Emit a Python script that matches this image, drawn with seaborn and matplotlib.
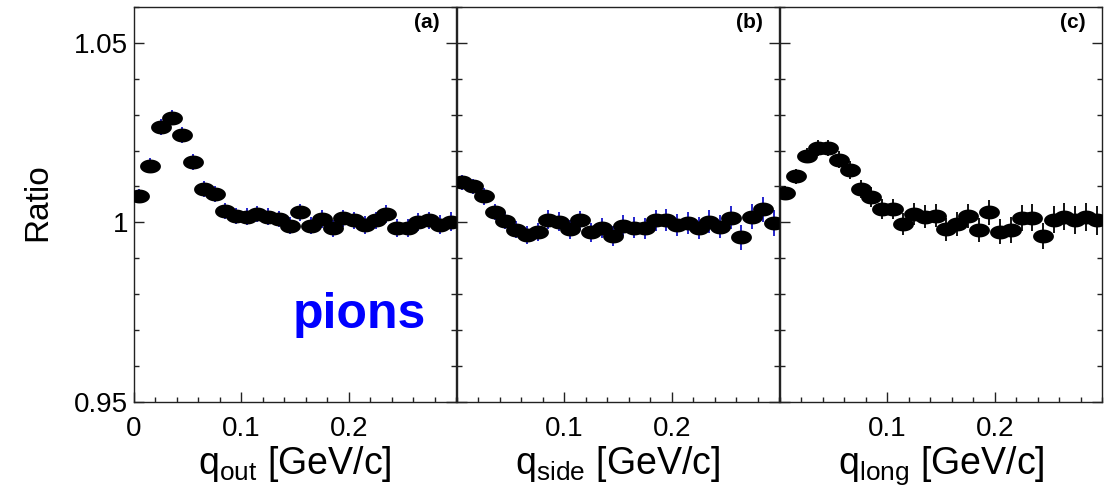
import numpy as np
import matplotlib
matplotlib.use("Agg")
from matplotlib import pyplot as plt
from matplotlib.path import Path
from matplotlib.ticker import FixedLocator, FixedFormatter, MultipleLocator
import seaborn as sns

# bin centres [GeV/c]
q = [0.005, 0.015, 0.025, 0.035, 0.045, 0.055, 0.065, 0.075, 0.085, 0.095,
     0.105, 0.115, 0.125, 0.135, 0.145, 0.155, 0.165, 0.175, 0.185, 0.195,
     0.205, 0.215, 0.225, 0.235, 0.245, 0.255, 0.265, 0.275, 0.285, 0.295]

ratio_out = [1.0074, 1.0157, 1.0265, 1.0292, 1.0244, 1.0168, 1.0093, 1.0079, 1.0032, 1.0018,
             1.0016, 1.0023, 1.0016, 1.0009, 0.9990, 1.0028, 0.9990, 1.0009, 0.9983, 1.0011,
             1.0005, 0.9993, 1.0005, 1.0023, 0.9983, 0.9983, 1.0002, 1.0005, 0.9993, 1.0002]
err_out = [0.0020, 0.0021, 0.0022, 0.0022, 0.0022, 0.0022, 0.0022, 0.0022, 0.0023, 0.0023,
           0.0023, 0.0023, 0.0023, 0.0023, 0.0024, 0.0024, 0.0024, 0.0024, 0.0024, 0.0024,
           0.0024, 0.0025, 0.0025, 0.0025, 0.0025, 0.0025, 0.0025, 0.0025, 0.0026, 0.0026]

ratio_side = [1.0111, 1.0100, 1.0072, 1.0028, 1.0004, 0.9979, 0.9965, 0.9972, 1.0007, 1.0002,
              0.9980, 1.0005, 0.9972, 0.9985, 0.9963, 0.9991, 0.9985, 0.9983, 1.0005, 1.0007,
              0.9993, 0.9999, 0.9985, 1.0002, 0.9988, 1.0013, 0.9958, 1.0016, 1.0036, 0.9999]
err_side = [0.0022, 0.0022, 0.0023, 0.0023, 0.0024, 0.0024, 0.0025, 0.0025, 0.0026, 0.0026,
            0.0027, 0.0027, 0.0027, 0.0028, 0.0028, 0.0028, 0.0029, 0.0029, 0.0029, 0.0030,
            0.0030, 0.0031, 0.0031, 0.0032, 0.0032, 0.0033, 0.0034, 0.0034, 0.0035, 0.0036]

ratio_long = [1.0081, 1.0128, 1.0186, 1.0207, 1.0207, 1.0174, 1.0146, 1.0093, 1.0070, 1.0037,
              1.0037, 0.9995, 1.0023, 1.0016, 1.0018, 0.9980, 0.9995, 1.0018, 0.9979, 1.0028,
              0.9974, 0.9979, 1.0011, 1.0013, 0.9962, 1.0007, 1.0016, 1.0007, 1.0016, 1.0005]
err_long = [0.0020, 0.0021, 0.0022, 0.0022, 0.0023, 0.0024, 0.0025, 0.0026, 0.0027, 0.0028,
            0.0029, 0.0030, 0.0031, 0.0031, 0.0032, 0.0033, 0.0033, 0.0034, 0.0034, 0.0035,
            0.0035, 0.0036, 0.0036, 0.0037, 0.0037, 0.0038, 0.0038, 0.0039, 0.0039, 0.0040]

panels = [
    ("(a)", "out", ratio_out, err_out, "#1414c8"),
    ("(b)", "side", ratio_side, err_side, "#1414c8"),
    ("(c)", "long", ratio_long, err_long, "black"),
]

sns.set_style("ticks")
plt.rcParams["font.family"] = ["Liberation Sans", "DejaVu Sans"]
plt.rcParams["mathtext.fontset"] = "custom"
plt.rcParams["mathtext.rm"] = "Liberation Sans"
plt.rcParams["mathtext.it"] = "Liberation Sans:italic"
for k in ["text.color", "axes.labelcolor", "xtick.color", "ytick.color"]:
    plt.rcParams[k] = "black"

# flattened ellipse marker, like the stretched ROOT markers
t = np.linspace(0, 2 * np.pi, 60)
ell = Path(np.column_stack([1.5 * np.cos(t), np.sin(t)]), closed=True)

fig = plt.figure(figsize=(11.11, 4.96), dpi=100)
lefts = [134, 457, 780]
axes = []
for i, (tag, sub, ratio, err, ecol) in enumerate(panels):
    ax = fig.add_axes([lefts[i] / 1111, 94.3 / 496, 322 / 1111, 394.7 / 496])
    axes.append(ax)
    ax.errorbar(q, ratio, yerr=err, fmt="none", ecolor=ecol, elinewidth=1.3,
                capsize=0, zorder=2)
    sns.scatterplot(x=q, y=ratio, ax=ax, marker=ell, s=15 ** 2, color="black",
                    edgecolor="black", linewidth=0, zorder=3, legend=False)
    ax.set_xlim(0, 0.3)
    ax.set_ylim(0.95, 1.06)

    if i == 0:
        xt, xl = [0, 0.1, 0.2], ["0", "0.1", "0.2"]
    else:
        xt, xl = [0.1, 0.2], ["0.1", "0.2"]
    ax.xaxis.set_major_locator(FixedLocator(xt))
    ax.xaxis.set_major_formatter(FixedFormatter(xl))
    ax.xaxis.set_minor_locator(MultipleLocator(0.02))
    ax.yaxis.set_major_locator(FixedLocator([0.95, 1.0, 1.05]))
    ax.yaxis.set_minor_locator(MultipleLocator(0.01))
    if i == 0:
        ax.yaxis.set_major_formatter(FixedFormatter(["0.95", "1", "1.05"]))
    else:
        ax.set_yticklabels([])

    ax.tick_params(which="both", direction="in", left=True, right=True,
                   top=False, bottom=True, width=1.0, color="#222222")
    ax.tick_params(which="major", length=7.5, labelsize=20, pad=10)
    ax.tick_params(which="minor", length=3.5)
    ax.tick_params(axis="y", which="major", pad=4)
    for sp in ax.spines.values():
        sp.set_linewidth(1.0)
        sp.set_color("#222222")

    ax.set_xlabel("q$_{\\mathrm{" + sub + "}}$ [GeV/c]", fontsize=27, labelpad=2)
    ax.text(0.95, 0.985, tag, transform=ax.transAxes, ha="right", va="top",
            fontsize=15, fontweight="bold")

axes[0].set_ylabel("Ratio", fontsize=24)
axes[0].yaxis.set_label_coords(-0.25, 0.506)
axes[0].text(0.699, 0.187, "pions", transform=axes[0].transAxes, ha="center",
             va="baseline", fontsize=36, fontweight="bold", color="#0000ff")

fig.savefig("out.png", dpi=100, facecolor="white")
